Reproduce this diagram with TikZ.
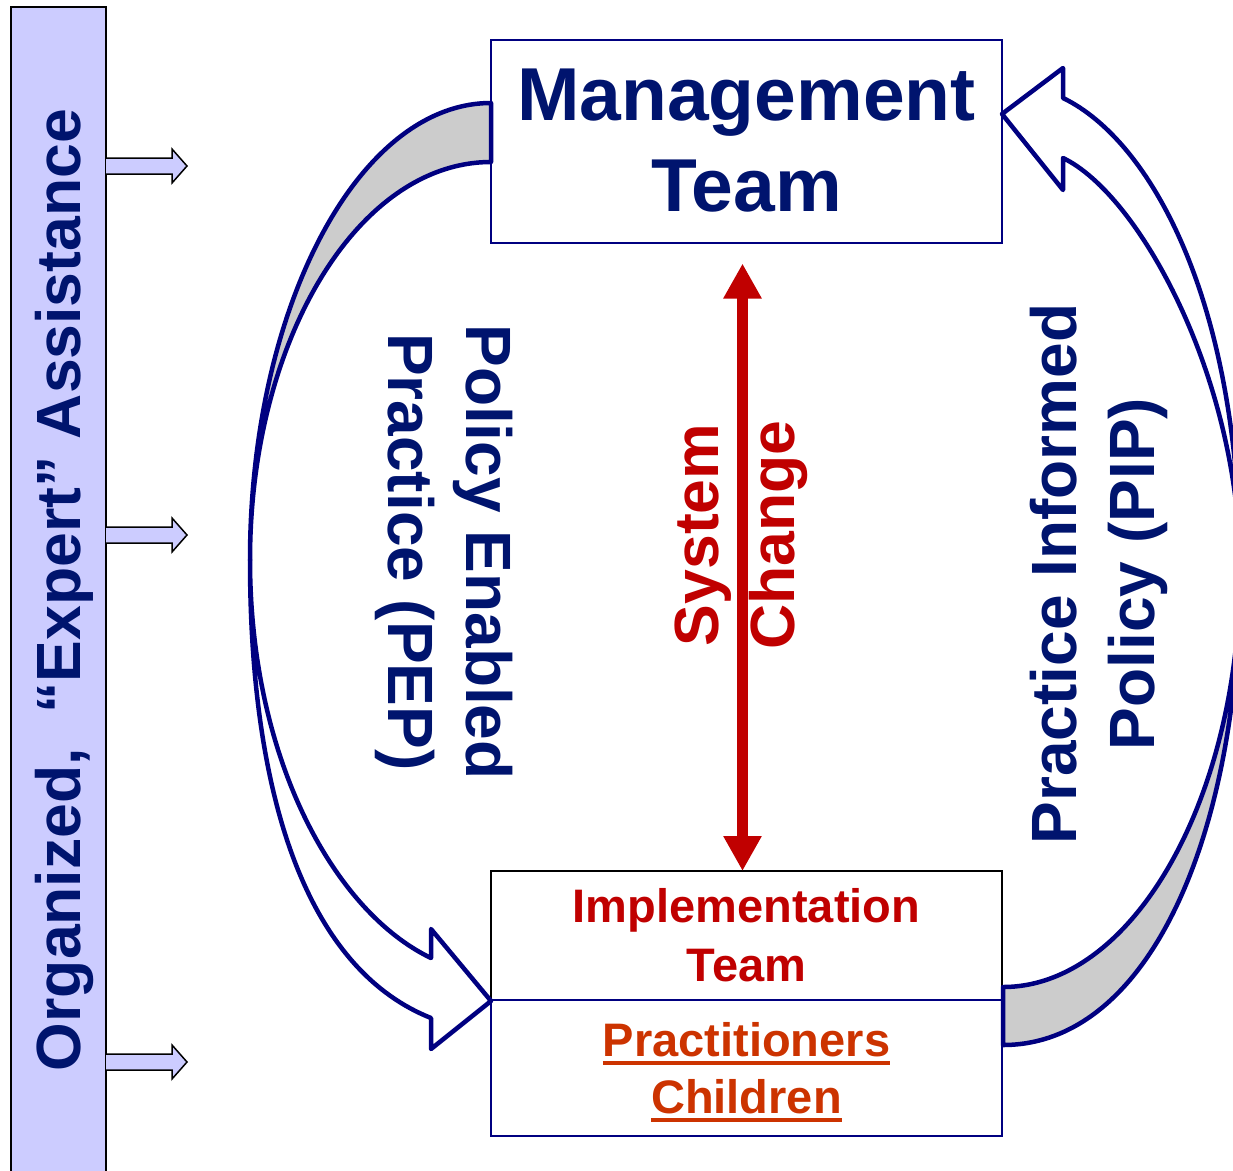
\documentclass[tikz,border=0pt]{standalone}
\usepackage{fontspec}
\setmainfont{Liberation Sans}
\usetikzlibrary{arrows.meta,positioning}
\definecolor{navytxt}{HTML}{00146E}
\definecolor{navyline}{HTML}{000080}
\definecolor{sysred}{HTML}{C00000}
\definecolor{pracorange}{HTML}{CC3300}
\definecolor{barfill}{HTML}{CCCCFF}
\definecolor{backgray}{HTML}{CCCCCC}
\newcommand{\ulword}[1]{\setbox0\hbox{#1}\rlap{\raisebox{0pt}[0pt][0pt]{\vrule height -4.5pt depth 9pt width \wd0}}\box0}
\begin{document}
\begin{tikzpicture}[x=1pt, y=-1pt,
  box/.style={draw=navyline, fill=white, line width=2pt, minimum width=511pt, align=center, inner sep=0pt, outer sep=0pt},
  bigtxt/.style={font=\fontsize{62.5}{76}\selectfont\bfseries, align=center, inner sep=0pt},
  looptxt/.style={bigtxt, font=\fontsize{64}{78}\selectfont\bfseries, text=navytxt},
  curvearr/.style={draw=navyline, line width=4.5pt, line join=round},
  smallarr/.style={draw=black, fill=barfill, line width=1.5pt},
  sysarr/.style={draw=sysred, line width=11pt, {Triangle[length=35pt,width=36pt]}-{Triangle[length=35pt,width=36pt]}}]
\useasboundingbox (0,0) rectangle (1233,1170);
% side bar and its three feeds
\node[draw=black, fill=barfill, line width=2pt, minimum width=95pt, minimum height=1175pt, inner sep=0pt, outer sep=0pt, anchor=north west] (bar) at (11,7) {};
\node[bigtxt, rotate=90, text=navytxt] (bartxt) at (64,590) {Organized,~~“Expert” Assistance};
\foreach \y in {166,535,1062}
  \draw[smallarr] (106,\y-8) -- (172,\y-8) -- (172,\y-17) -- (187,\y) -- (172,\y+17) -- (172,\y+8) -- (106,\y+8);
% teams
\node[box, minimum height=203pt, text=navytxt, font=\fontsize{75}{91}\selectfont\bfseries] (mgmt) at (746.5,141) {Management\\Team};
\node[box, draw=black, minimum height=129pt, text=sysred, font=\fontsize{47}{59}\selectfont\bfseries] (impl) at (746.5,935.5) {Implementation\\Team};
\node[box, minimum height=136pt, below=0pt of impl, text=pracorange, font=\fontsize{47}{57}\selectfont\bfseries] (prac) {\ulword{Practitioners}\\\ulword{Children}};
% system change
\draw[sysarr] ([xshift=-4pt,yshift=-21pt]mgmt.south) -- ([xshift=-4pt]impl.north);
\node[bigtxt, rotate=90, text=sysred] (systxt) at (741,535) {System\\Change};
% PEP loop, left
\draw[curvearr, fill=backgray] (491,103) .. controls (358,103) and (250,308) .. (250,560)
  .. controls (250,340) and (358,162) .. (491,162) -- cycle;
\draw[curvearr, fill=white] (250,560) .. controls (250,760) and (335,912) .. (431,958)
  -- (431,929) -- (491,1001) -- (431,1049) -- (431,1018)
  .. controls (315,972) and (250,815) .. (250,560) -- cycle;
\node[looptxt, rotate=-90] (peptxt) at (444,552) {Policy Enabled\\Practice (PEP)};
% PIP loop, right
\draw[curvearr, fill=white] (1063,98) .. controls (1150,140) and (1240,300) .. (1240,570)
  .. controls (1240,380) and (1140,195) .. (1063,158) -- (1063,190) -- (1002,114) -- (1063,68) -- cycle;
\draw[curvearr, fill=backgray] (1240,570) .. controls (1240,800) and (1132,987) .. (1003,987)
  -- (1003,1045) .. controls (1150,1045) and (1240,832) .. (1240,570) -- cycle;
\node[looptxt, rotate=90] (piptxt) at (1099,574) {Practice Informed\\Policy (PIP)};
\end{tikzpicture}
\end{document}
